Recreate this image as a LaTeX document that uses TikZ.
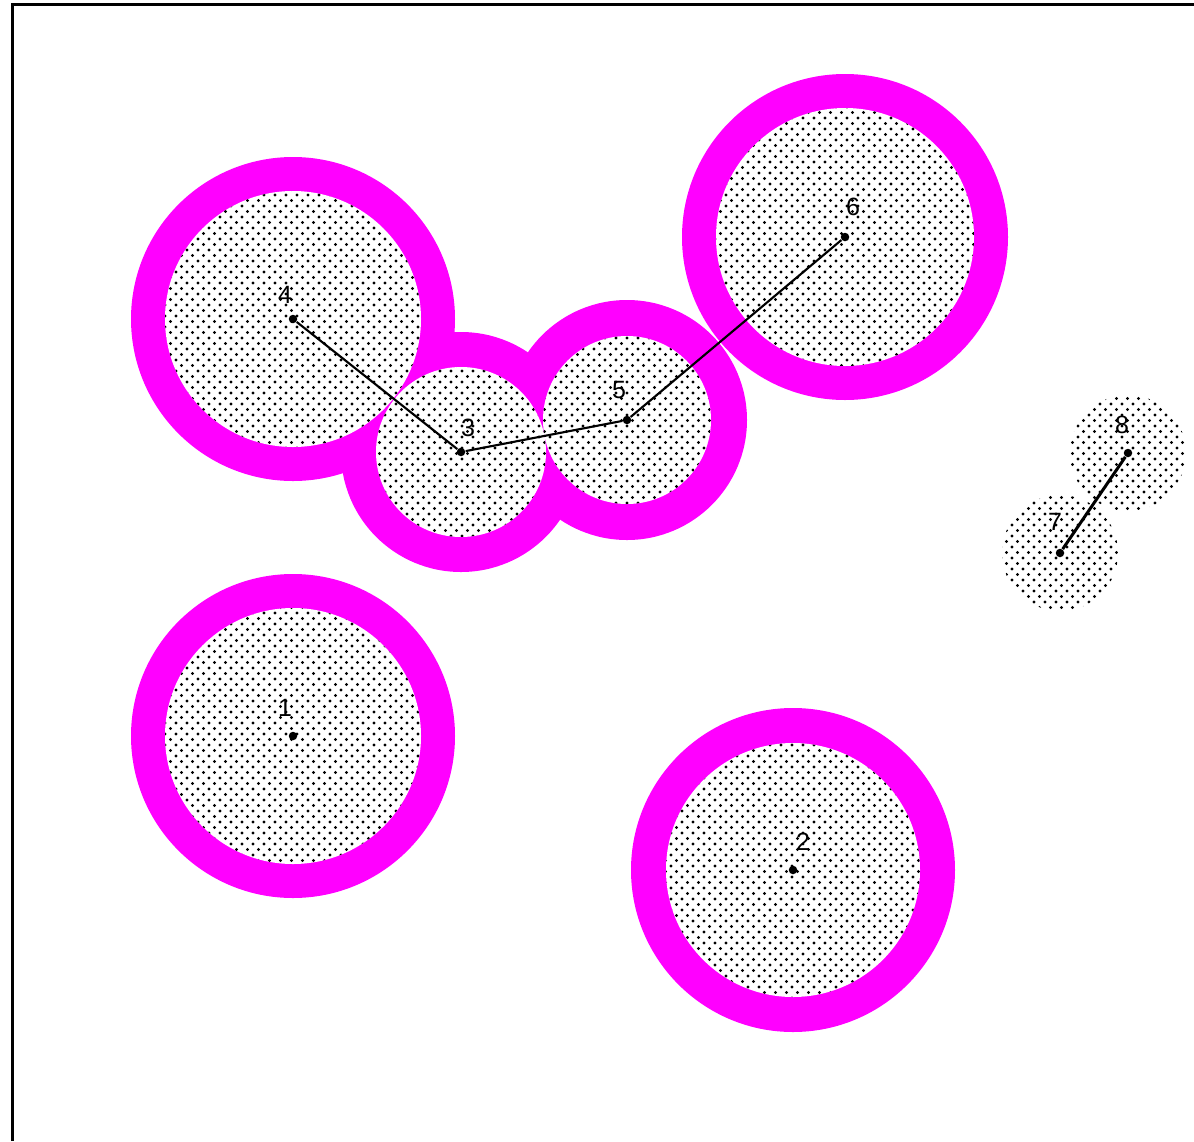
\documentclass[tikz,border=0pt]{standalone}
\usepackage{fontspec}
\setmainfont{Liberation Sans}
\usetikzlibrary{patterns}
\pgfdeclarepatternformonly{mydots}{\pgfqpoint{-1pt}{-1pt}}{\pgfqpoint{5.4pt}{5.4pt}}{\pgfqpoint{4.4pt}{4.4pt}}{%
  \pgfpathcircle{\pgfqpoint{0pt}{0pt}}{0.62pt}%
  \pgfpathcircle{\pgfqpoint{2.2pt}{2.2pt}}{0.62pt}%
  \pgfusepath{fill}}
\definecolor{ringmag}{RGB}{255,0,255}
\tikzset{
  ring/.style={fill=ringmag},
  core/.style={preaction={fill=white}, pattern=mydots, pattern color=black},
  pt/.style={circle, fill=black, inner sep=0pt, minimum size=3.4pt},
  lbl/.style={font=\fontsize{10}{10}\selectfont, text=black, inner sep=0pt},
  edge/.style={draw=black, line width=0.85pt},
  frame/.style={draw=black, line width=1.2pt}
}
\begin{document}
\begin{tikzpicture}[x=0.4pt, y=-0.4pt]
\useasboundingbox (0,0) rectangle (1194,1141);
\fill[white] (0,0) rectangle (1194,1141);
% frame
\draw[frame] (12,1141) -- (12,4.5) -- (1194,4.5);
% outer rings
\fill[ring] (293,319) circle[radius=162];
\fill[ring] (461,452) circle[radius=120];
\fill[ring] (627,420) circle[radius=120];
\fill[ring] (845,237) circle[radius=163];
\fill[ring] (293,736) circle[radius=162];
\fill[ring] (793,870) circle[radius=162];
% dotted cores
\path[core] (293,319) circle[radius=128];
\path[core] (461,452) circle[radius=85];
\path[core] (627,420) circle[radius=84];
\path[core] (845,237) circle[radius=129];
\path[core] (293,736) circle[radius=128];
\path[core] (793,870) circle[radius=127];
\path[core] (1128,453) circle[radius=58];
\path[core] (1060,553) circle[radius=58];
% centre points
\node[pt] (n1) at (293,736) {};
\node[pt] (n2) at (793,870) {};
\node[pt] (n3) at (461,452) {};
\node[pt] (n4) at (293,319) {};
\node[pt] (n5) at (627,420) {};
\node[pt] (n6) at (845,237) {};
\node[pt] (n7) at (1060,553) {};
\node[pt] (n8) at (1128,453) {};
% connectors
\draw[edge] (n4) -- (n3);
\draw[edge] (n3) -- (n5);
\draw[edge] (n5) -- (n6);
\draw[edge, line width=1.2pt] (n8) -- (n7);
% labels
\node[lbl] (l1) at (285,708) {1};
\node[lbl] (l2) at (803,842) {2};
\node[lbl] (l3) at (468,428) {3};
\node[lbl] (l4) at (285,295) {4};
\node[lbl] (l5) at (619,390) {5};
\node[lbl] (l6) at (853,207) {6};
\node[lbl] (l7) at (1055,522) {7};
\node[lbl] (l8) at (1122,425) {8};
\end{tikzpicture}
\end{document}
